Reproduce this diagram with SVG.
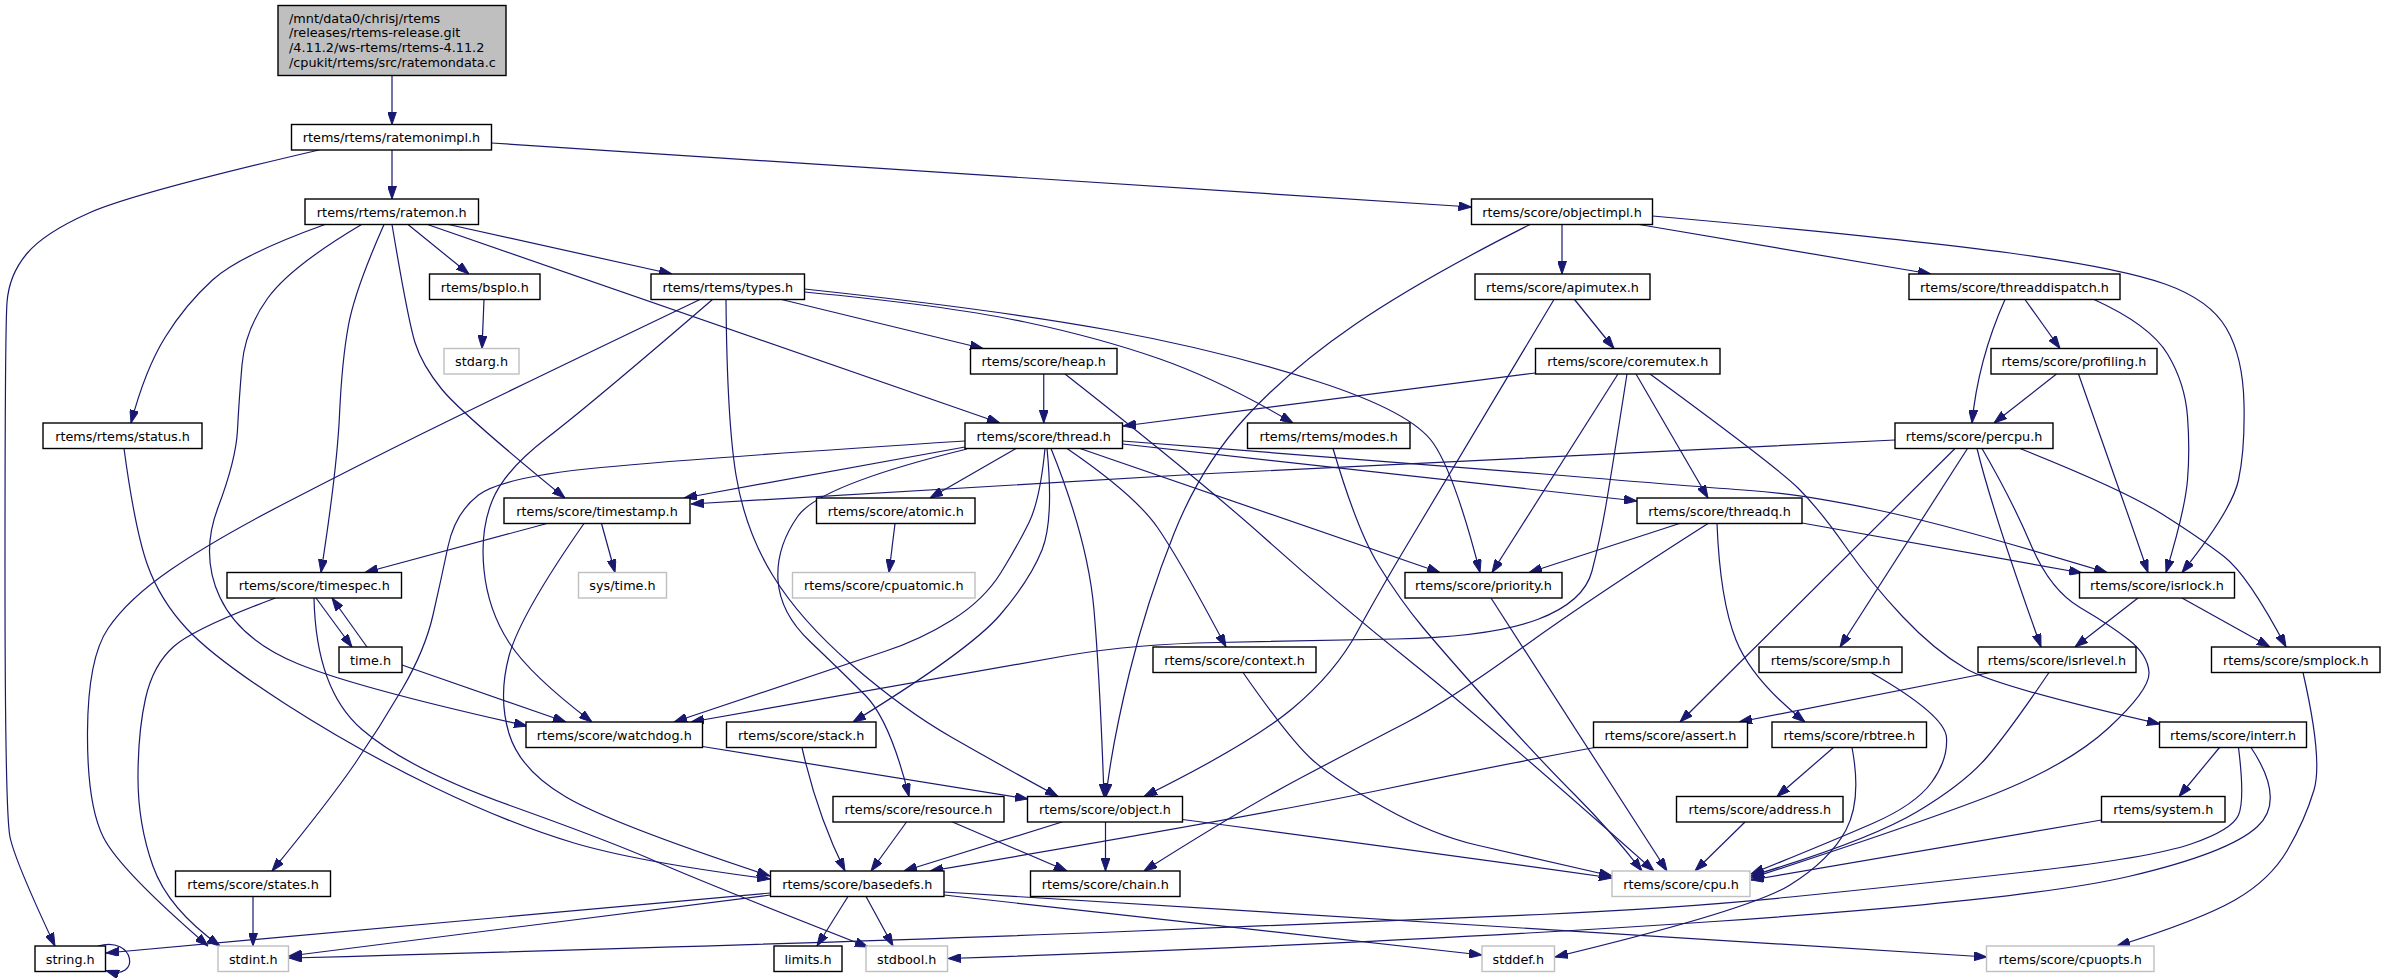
<svg xmlns="http://www.w3.org/2000/svg" width="2385" height="978" viewBox="0 0 2385 978">
<style>
.n rect{fill:#fff;stroke:#000;stroke-width:1.4}
.g rect{fill:#fff;stroke:#bfbfbf;stroke-width:1.4}
.r rect{fill:#bfbfbf;stroke:#000;stroke-width:1.4}
text{font-family:"DejaVu Sans","Liberation Sans",Arial,sans-serif;font-size:12.8px;text-anchor:middle;fill:#000}
.r text{text-anchor:start}
#edges path{fill:none;stroke:#191970;stroke-width:1.2;marker-end:url(#ah)}
</style>
<defs>
<marker id="ah" viewBox="0 0 13 9" refX="13" refY="4.5" markerWidth="13" markerHeight="9" orient="auto" markerUnits="userSpaceOnUse"><path d="M0,0 L13,4.5 L0,9 z" fill="#191970" stroke="#191970" stroke-width="1"/></marker>
</defs>
<rect width="2385" height="978" fill="#fff"/>
<g id="edges">
<path d="M392,75.5 L392,124.5"/>
<path d="M392,150 L392,199"/>
<path d="M491.5,143 L1471.5,207"/>
<path d="M319,150 Q134,193 89,213 Q44,233 26.5,254 Q9,275 7,302.5 Q5,330 5,571.5 Q5,813 10,837 Q15,861 55,946"/>
<path d="M448.5,224.5 L672,274"/>
<path d="M408,224.5 L469,274"/>
<path d="M325,224.5 Q240,255 212.5,280 Q185,305 165,337.5 Q145,370 131,423"/>
<path d="M361.5,224.5 Q290,267 267.5,298.5 Q245,330 242,365 Q239,400 237.5,430 Q236,460 218,507.5 Q200,555 220,597.5 Q240,640 298.5,664 Q357,688 527,726"/>
<path d="M384,224.5 Q355,290 348.5,325 Q342,360 339.5,415 Q337,470 321,572.5"/>
<path d="M392,224.5 Q408,320 415,342.5 Q422,365 442,389.5 Q462,414 565,498"/>
<path d="M427.5,224.5 L1000,423"/>
<path d="M484,299.5 L482,348.5"/>
<path d="M781.5,299.5 L983,348.5"/>
<path d="M804.5,292 Q950,306 1025,322 Q1100,338 1160,359 Q1220,380 1293,423"/>
<path d="M804.5,289 Q1000,310 1111.5,330.5 Q1223,351 1317.5,381.5 Q1412,412 1433.5,443.5 Q1455,475 1480,572.5"/>
<path d="M726,299.5 Q727,420 736,475 Q745,530 772.5,575 Q800,620 852,665 Q904,710 952,737.5 Q1000,765 1058,796.5"/>
<path d="M712.5,299.5 Q590,405 547.5,437.5 Q505,470 492.5,500 Q480,530 484,570 Q488,610 509,642.5 Q530,675 592,722"/>
<path d="M700,299.5 Q490,400 423.5,433 Q357,466 285.5,503 Q214,540 171,569.5 Q128,599 108,628.5 Q88,658 87.5,731.5 Q87,805 103.5,837.5 Q120,870 208,946"/>
<path d="M1562,224.5 L1562,274"/>
<path d="M1639,224.5 L1931,274"/>
<path d="M1652.5,216 Q1900,238 2010,253 Q2120,268 2165,284 Q2210,300 2226.5,328.5 Q2243,357 2244,403.5 Q2245,450 2238.5,480 Q2232,510 2182,572.5"/>
<path d="M1574.5,299.5 L1614,348.5"/>
<path d="M1554,299.5 Q1446,480 1413,535 Q1380,590 1357.5,631.5 Q1335,673 1292.5,708.5 Q1250,744 1144,796.5"/>
<path d="M1530,224.5 Q1420,280 1355,324.5 Q1290,369 1245.5,417.5 Q1201,466 1174,533.5 Q1147,601 1129.5,672.5 Q1112,744 1106,796.5"/>
<path d="M1051,448.5 Q1088,540 1094,610 Q1100,680 1104,796.5"/>
<path d="M2005,299.5 Q1978,360 1972,423"/>
<path d="M2025,299.5 L2060,348.5"/>
<path d="M2094,299.5 Q2150,325 2167.5,354 Q2185,383 2187.5,416.5 Q2190,450 2187.5,480 Q2185,510 2166,572.5"/>
<path d="M2056.5,374 L1994,423"/>
<path d="M2078.5,374 Q2105,450 2117.5,485 Q2130,520 2148,572.5"/>
<path d="M1535.5,373 L1123,426"/>
<path d="M1618,374 L1492,572.5"/>
<path d="M1627,374 Q1612,470 1606,505 Q1600,540 1592,571 Q1584,602 1537.5,619.5 Q1491,637 1395.5,639 Q1300,641 1217,642.5 Q1134,644 1067,655.5 Q1000,667 691,722"/>
<path d="M1636,374 L1708,498"/>
<path d="M1650,374 Q1777,467 1798.5,488.5 Q1820,510 1845.5,546.5 Q1871,583 1902.5,616.5 Q1934,650 1965.5,668.5 Q1997,687 2160,724"/>
<path d="M965,447 L684,498"/>
<path d="M1895,440 Q1400,463 1200,474 Q1000,485 691,504"/>
<path d="M965,441 Q700,458 601,467.5 Q502,477 478.5,495 Q455,513 448,546.5 Q441,580 433,615 Q425,650 402.5,688.5 Q380,727 355,763.5 Q330,800 272,871"/>
<path d="M1045,448.5 Q1040,500 1029,522.5 Q1018,545 1001,572.5 Q984,600 952,620 Q920,640 884.5,651.5 Q849,663 674,722"/>
<path d="M1016,448.5 L930,498"/>
<path d="M1047,448.5 Q1054,520 1042,550 Q1030,580 1000,615 Q970,650 853,722"/>
<path d="M967,449 Q820,485 798,516 Q776,547 778,580 Q780,613 810,641.5 Q840,670 865,695 Q890,720 909,796.5"/>
<path d="M1067,448.5 Q1135,495 1157.5,527.5 Q1180,560 1226,647"/>
<path d="M1080,448.5 L1440,572.5"/>
<path d="M1122.5,444 L1637,501"/>
<path d="M1122.5,441 Q1400,462 1550,474.5 Q1700,487 1750,490.5 Q1800,494 1875,509.5 Q1950,525 2107,572.5"/>
<path d="M1043.75,374 L1043.75,423"/>
<path d="M1065,374 Q1200,480 1267.5,540.5 Q1335,601 1413,663.5 Q1491,726 1654,871"/>
<path d="M1333,448.5 Q1357,530 1378.5,565 Q1400,600 1423,627.5 Q1446,655 1493,707.5 Q1540,760 1575,795 Q1610,830 1642,871"/>
<path d="M1491,598 L1667,871"/>
<path d="M1243,672.5 Q1290,740 1312.5,760 Q1335,780 1384,807.5 Q1433,835 1476.5,845 Q1520,855 1612,876"/>
<path d="M1182.5,819.5 Q1400,848 1612,878"/>
<path d="M1745,822 L1695,871"/>
<path d="M1871,672.5 Q1945,715 1946.5,737.5 Q1948,760 1931.5,782.5 Q1915,805 1872.5,823.5 Q1830,842 1751,874"/>
<path d="M2049,672.5 Q2010,730 1987.5,756.5 Q1965,783 1917.5,811.5 Q1870,840 1751,876"/>
<path d="M1982,448.5 Q2012,500 2031,545 Q2050,590 2080,607.5 Q2110,625 2129,640 Q2148,655 2149,672.5 Q2150,690 2108,728.5 Q2066,767 1983,798.5 Q1900,830 1751,878"/>
<path d="M2101.5,820 L1751,880"/>
<path d="M1955,448.5 L1680,722"/>
<path d="M1967.5,448.5 L1840,647"/>
<path d="M1977,448.5 Q1992,510 2041,647"/>
<path d="M2020,448.5 Q2124,490 2162,514 Q2200,538 2224,556.5 Q2248,575 2286,647"/>
<path d="M2138,598 L2075,647"/>
<path d="M2182,598 L2270,647"/>
<path d="M2303,672.5 Q2323,760 2314,790 Q2305,820 2287.5,850 Q2270,880 2235,900 Q2200,920 2117,946"/>
<path d="M1990.5,672.5 L1739,722"/>
<path d="M2219.5,747.5 L2179,796.5"/>
<path d="M2238.5,747.5 Q2245,800 2238.5,815 Q2232,830 2191,844 Q2150,858 2025,872 Q1900,886 1790.5,897 Q1681,908 1540.5,914.5 Q1400,921 1100,932.5 Q800,944 289,958"/>
<path d="M2251,747.5 Q2286,800 2257.5,826.5 Q2229,853 2128.5,876.5 Q2028,900 1714,921.5 Q1400,943 948,958.5"/>
<path d="M944,892 L1987,957"/>
<path d="M944,895 L1482,955"/>
<path d="M1852,747.5 Q1862,800 1846,830 Q1830,860 1790,885 Q1750,910 1555,957"/>
<path d="M1833.5,747.5 L1777,796.5"/>
<path d="M1679.5,523.5 L1529,572.5"/>
<path d="M1802,523 L2082,573"/>
<path d="M1717,523.5 Q1720,600 1736,640 Q1752,680 1805,722"/>
<path d="M1708,523.5 Q1588,600 1519,650 Q1450,700 1406.5,722.5 Q1363,745 1301.5,777.5 Q1240,810 1144,871"/>
<path d="M1594.5,747.5 Q1500,765 1380.5,790 Q1261,815 930,871"/>
<path d="M1062,822 L904,871"/>
<path d="M1105.5,822 L1105.5,871"/>
<path d="M906.5,822 L871,871"/>
<path d="M952.5,822 L1067,871"/>
<path d="M802,747.5 Q817,814.5 845,871"/>
<path d="M702.5,746.5 L1028,799"/>
<path d="M895,523.5 L889,572.5"/>
<path d="M547,523.5 L365,572.5"/>
<path d="M601.5,523.5 L615,572.5"/>
<path d="M584,523.5 Q520,615 509,656 Q498,697 509,733.5 Q520,770 566,797 Q612,824 770,876"/>
<path d="M124,448.5 Q135,530 147.5,565 Q160,600 187,629 Q214,658 285.5,704 Q357,750 433.5,787 Q510,824 574,843 Q638,862 770,879"/>
<path d="M275.5,598 Q194,628.5 173.5,646.75 Q153,665 145.5,698.5 Q138,732 138,778 Q138,824 153,866.3 Q168,908.6 220,946"/>
<path d="M314,598 Q316,690 362,729.5 Q408,769 510,805.5 Q612,842 656,861.5 Q700,881 868,947"/>
<path d="M316,598 L352,647"/>
<path d="M367,647 L332,598"/>
<path d="M402,665 L566,722"/>
<path d="M253,896.5 L253,946"/>
<path d="M848,896.5 L817,946"/>
<path d="M866,896.5 L893,946"/>
<path d="M770.5,893 L106,953"/>
<path d="M770.5,895 L289,956"/>
<path d="M98,946 C135,935 142,982 106,970.5"/>
</g>
<g id="n0" class="r"><rect x="278" y="5.5" width="228" height="70"/><text x="289" y="22.5">/mnt/data0/chrisj/rtems</text><text x="289" y="37.3">/releases/rtems-release.git</text><text x="289" y="52">/4.11.2/ws-rtems/rtems-4.11.2</text><text x="289" y="66.8">/cpukit/rtems/src/ratemondata.c</text></g>
<g id="n1" class="n"><rect x="291.5" y="124.5" width="200" height="25.5"/><text x="391.5" y="142">rtems/rtems/ratemonimpl.h</text></g>
<g id="n2" class="n"><rect x="305" y="199" width="173.5" height="25.5"/><text x="391.75" y="216.5">rtems/rtems/ratemon.h</text></g>
<g id="n3" class="n"><rect x="1471.5" y="199" width="181" height="25.5"/><text x="1562" y="216.5">rtems/score/objectimpl.h</text></g>
<g id="n4" class="n"><rect x="35" y="946" width="70.5" height="25.5"/><text x="70.25" y="963.5">string.h</text></g>
<g id="n5" class="n"><rect x="651" y="274" width="153.5" height="25.5"/><text x="727.75" y="291.5">rtems/rtems/types.h</text></g>
<g id="n6" class="n"><rect x="429.5" y="274" width="110.5" height="25.5"/><text x="484.75" y="291.5">rtems/bspIo.h</text></g>
<g id="n7" class="n"><rect x="43" y="423" width="159" height="25.5"/><text x="122.5" y="440.5">rtems/rtems/status.h</text></g>
<g id="n8" class="n"><rect x="965" y="423" width="157.5" height="25.5"/><text x="1043.75" y="440.5">rtems/score/thread.h</text></g>
<g id="n9" class="n"><rect x="504" y="498" width="186" height="25.5"/><text x="597" y="515.5">rtems/score/timestamp.h</text></g>
<g id="n10" class="n"><rect x="227" y="572.5" width="174.5" height="25.5"/><text x="314.25" y="590">rtems/score/timespec.h</text></g>
<g id="n11" class="n"><rect x="526" y="722" width="176.5" height="25.5"/><text x="614.25" y="739.5">rtems/score/watchdog.h</text></g>
<g id="n12" class="g"><rect x="444" y="348.5" width="75" height="25.5"/><text x="481.5" y="366">stdarg.h</text></g>
<g id="n13" class="n"><rect x="970.5" y="348.5" width="146.5" height="25.5"/><text x="1043.75" y="366">rtems/score/heap.h</text></g>
<g id="n14" class="n"><rect x="1247.5" y="423" width="162.5" height="25.5"/><text x="1328.75" y="440.5">rtems/rtems/modes.h</text></g>
<g id="n15" class="n"><rect x="1405" y="572.5" width="157" height="25.5"/><text x="1483.5" y="590">rtems/score/priority.h</text></g>
<g id="n16" class="n"><rect x="1027.5" y="796.5" width="155" height="25.5"/><text x="1105" y="814">rtems/score/object.h</text></g>
<g id="n17" class="g"><rect x="218" y="946" width="70.5" height="25.5"/><text x="253.25" y="963.5">stdint.h</text></g>
<g id="n18" class="n"><rect x="1475" y="274" width="175" height="25.5"/><text x="1562.5" y="291.5">rtems/score/apimutex.h</text></g>
<g id="n19" class="n"><rect x="1909" y="274" width="211" height="25.5"/><text x="2014.5" y="291.5">rtems/score/threaddispatch.h</text></g>
<g id="n20" class="n"><rect x="2079.5" y="572.5" width="155" height="25.5"/><text x="2157" y="590">rtems/score/isrlock.h</text></g>
<g id="n21" class="n"><rect x="1535.5" y="348.5" width="184.5" height="25.5"/><text x="1627.75" y="366">rtems/score/coremutex.h</text></g>
<g id="n22" class="n"><rect x="1637" y="498" width="165" height="25.5"/><text x="1719.5" y="515.5">rtems/score/threadq.h</text></g>
<g id="n23" class="n"><rect x="1991" y="348.5" width="166" height="25.5"/><text x="2074" y="366">rtems/score/profiling.h</text></g>
<g id="n24" class="n"><rect x="1895" y="423" width="158" height="25.5"/><text x="1974" y="440.5">rtems/score/percpu.h</text></g>
<g id="n25" class="n"><rect x="175.5" y="871" width="155" height="25.5"/><text x="253" y="888.5">rtems/score/states.h</text></g>
<g id="n26" class="n"><rect x="770.5" y="871" width="173.5" height="25.5"/><text x="857.25" y="888.5">rtems/score/basedefs.h</text></g>
<g id="n27" class="g"><rect x="578.5" y="572.5" width="88" height="25.5"/><text x="622.5" y="590">sys/time.h</text></g>
<g id="n28" class="n"><rect x="339" y="647" width="63" height="25.5"/><text x="370.5" y="664.5">time.h</text></g>
<g id="n29" class="n"><rect x="816.5" y="498" width="158.5" height="25.5"/><text x="895.75" y="515.5">rtems/score/atomic.h</text></g>
<g id="n30" class="g"><rect x="792.5" y="572.5" width="182.5" height="25.5"/><text x="883.75" y="590">rtems/score/cpuatomic.h</text></g>
<g id="n31" class="n"><rect x="1153" y="647" width="163" height="25.5"/><text x="1234.5" y="664.5">rtems/score/context.h</text></g>
<g id="n32" class="n"><rect x="726.5" y="722" width="149.5" height="25.5"/><text x="801.25" y="739.5">rtems/score/stack.h</text></g>
<g id="n33" class="n"><rect x="833" y="796.5" width="171" height="25.5"/><text x="918.5" y="814">rtems/score/resource.h</text></g>
<g id="n34" class="n"><rect x="1030.5" y="871" width="149.5" height="25.5"/><text x="1105.25" y="888.5">rtems/score/chain.h</text></g>
<g id="n35" class="n"><rect x="774" y="946" width="68" height="25.5"/><text x="808" y="963.5">limits.h</text></g>
<g id="n36" class="g"><rect x="866" y="946" width="81.5" height="25.5"/><text x="906.75" y="963.5">stdbool.h</text></g>
<g id="n37" class="g"><rect x="1482" y="946" width="72.5" height="25.5"/><text x="1518.25" y="963.5">stddef.h</text></g>
<g id="n38" class="g"><rect x="1612" y="871" width="138" height="25.5"/><text x="1681" y="888.5">rtems/score/cpu.h</text></g>
<g id="n39" class="n"><rect x="1759" y="647" width="143" height="25.5"/><text x="1830.5" y="664.5">rtems/score/smp.h</text></g>
<g id="n40" class="n"><rect x="1978" y="647" width="158" height="25.5"/><text x="2057" y="664.5">rtems/score/isrlevel.h</text></g>
<g id="n41" class="n"><rect x="2211.5" y="647" width="168.5" height="25.5"/><text x="2295.75" y="664.5">rtems/score/smplock.h</text></g>
<g id="n42" class="n"><rect x="1593.5" y="722" width="154" height="25.5"/><text x="1670.5" y="739.5">rtems/score/assert.h</text></g>
<g id="n43" class="n"><rect x="1772" y="722" width="154.5" height="25.5"/><text x="1849.25" y="739.5">rtems/score/rbtree.h</text></g>
<g id="n44" class="n"><rect x="2159.5" y="722" width="147" height="25.5"/><text x="2233" y="739.5">rtems/score/interr.h</text></g>
<g id="n45" class="n"><rect x="1676.5" y="796.5" width="166.5" height="25.5"/><text x="1759.75" y="814">rtems/score/address.h</text></g>
<g id="n46" class="n"><rect x="2101.5" y="796.5" width="123.5" height="25.5"/><text x="2163.25" y="814">rtems/system.h</text></g>
<g id="n47" class="g"><rect x="1986.5" y="946" width="167.5" height="25.5"/><text x="2070.25" y="963.5">rtems/score/cpuopts.h</text></g>
</svg>
